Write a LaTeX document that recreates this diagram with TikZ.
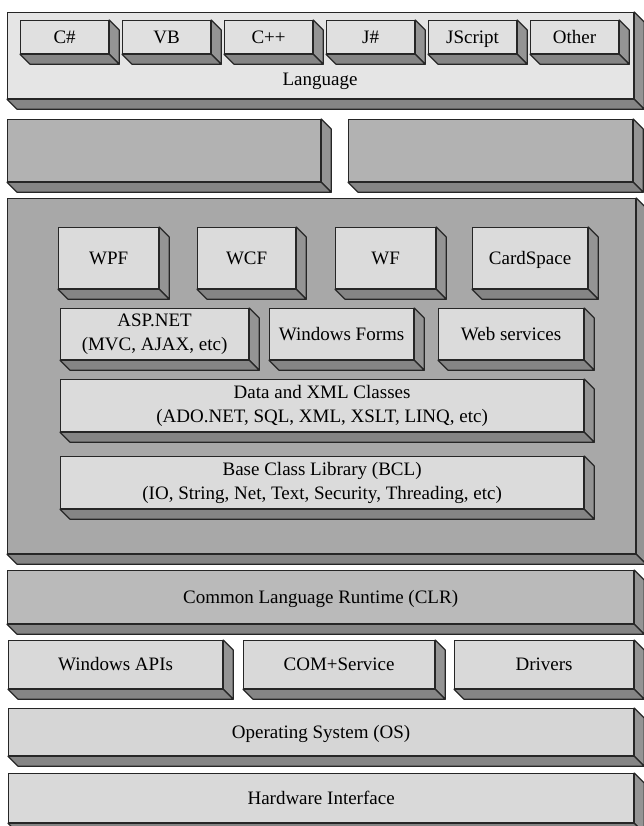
\documentclass[tikz,border=0pt]{standalone}
\usepackage{fontspec}
\setmainfont{Liberation Serif}

\begin{document}
\begin{tikzpicture}[x=1pt, y=-1pt,
    slab/.style={draw=black!85, line width=1.2pt, anchor=north west, inner sep=0pt, align=center,
        font=\fontsize{19}{24}\selectfont, text height=16pt, text depth=4pt},
    twoline/.style={text height=, text depth=},
    wh/.style 2 args={minimum width=#1, minimum height=#2},
    side/.style={draw=black!85, line width=1.2pt, line join=round, fill=black!42},
    base/.style={draw=black!85, line width=1.2pt, line join=round, fill=black!48}]
    \useasboundingbox (0,0) rectangle (644,826);
    \node[slab, wh={626}{86}, fill=black!10] (lang) at (7,12) {};
    \foreach \n/\t [count=\i from 0] in {cs/C\#, vb/VB, cpp/C++, jsharp/J\#, jscript/JScript, other/Other}
        \node[slab, wh={88}{33}, fill=black!12] (\n) at (20+102*\i,20) {\t};
    \node[font=\fontsize{19}{24}\selectfont, anchor=base] (langtxt) at (320,86) {Language};
    \node[slab, wh={313}{62}, fill=black!30] (left) at (7,119) {};
    \node[slab, wh={284}{62}, fill=black!30] (right) at (348,119) {};
    \node[slab, wh={628}{355}, fill=black!34] (fx) at (7,198) {};
    \node[slab, wh={100}{61}, fill=black!14] (wpf) at (58,227) {WPF};
    \node[slab, wh={98}{61}, fill=black!14] (wcf) at (197,227) {WCF};
    \node[slab, wh={100}{61}, fill=black!14] (wf) at (335,227) {WF};
    \node[slab, wh={115}{61}, fill=black!14] (card) at (472,227) {CardSpace};
    \node[slab, twoline, wh={188}{51}, fill=black!14] (asp) at (60,308) {ASP.NET\\(MVC, AJAX, etc)};
    \node[slab, wh={144}{51}, fill=black!14] (forms) at (269,308) {Windows Forms};
    \node[slab, wh={145}{51}, fill=black!14] (websvc) at (438,308) {Web services};
    \node[slab, twoline, wh={523}{52}, fill=black!14] (data) at (60,379) {Data and XML Classes\\(ADO.NET, SQL, XML, XSLT, LINQ, etc)};
    \node[slab, twoline, wh={523}{52}, fill=black!14] (bcl) at (60,456) {Base Class Library (BCL)\\(IO, String, Net, Text, Security, Threading, etc)};
    \node[slab, wh={626}{53}, fill=black!27] (clr) at (7,570) {Common Language Runtime (CLR)};
    \node[slab, wh={214}{48}, fill=black!15] (winapi) at (8,640) {Windows APIs};
    \node[slab, wh={191}{48}, fill=black!15] (com) at (243,640) {COM+Service};
    \node[slab, wh={179}{48}, fill=black!15] (drivers) at (454,640) {Drivers};
    \node[slab, wh={625}{47}, fill=black!16] (os) at (8,708) {Operating System (OS)};
    \node[slab, wh={625}{49}, fill=black!15] (hw) at (8,773) {Hardware Interface};
    \foreach \n in {lang,cs,vb,cpp,jsharp,jscript,other,left,right,fx,wpf,wcf,wf,card,asp,forms,websvc,data,bcl,clr,winapi,com,drivers,os,hw} {
        \draw[side] (\n.north east) -- ++(10,10) -- ([shift={(10,10)}]\n.south east) -- (\n.south east) -- cycle;
        \draw[base] (\n.south west) -- (\n.south east) -- ([shift={(10,10)}]\n.south east) -- ([shift={(10,10)}]\n.south west) -- cycle;
    }
\end{tikzpicture}
\end{document}
